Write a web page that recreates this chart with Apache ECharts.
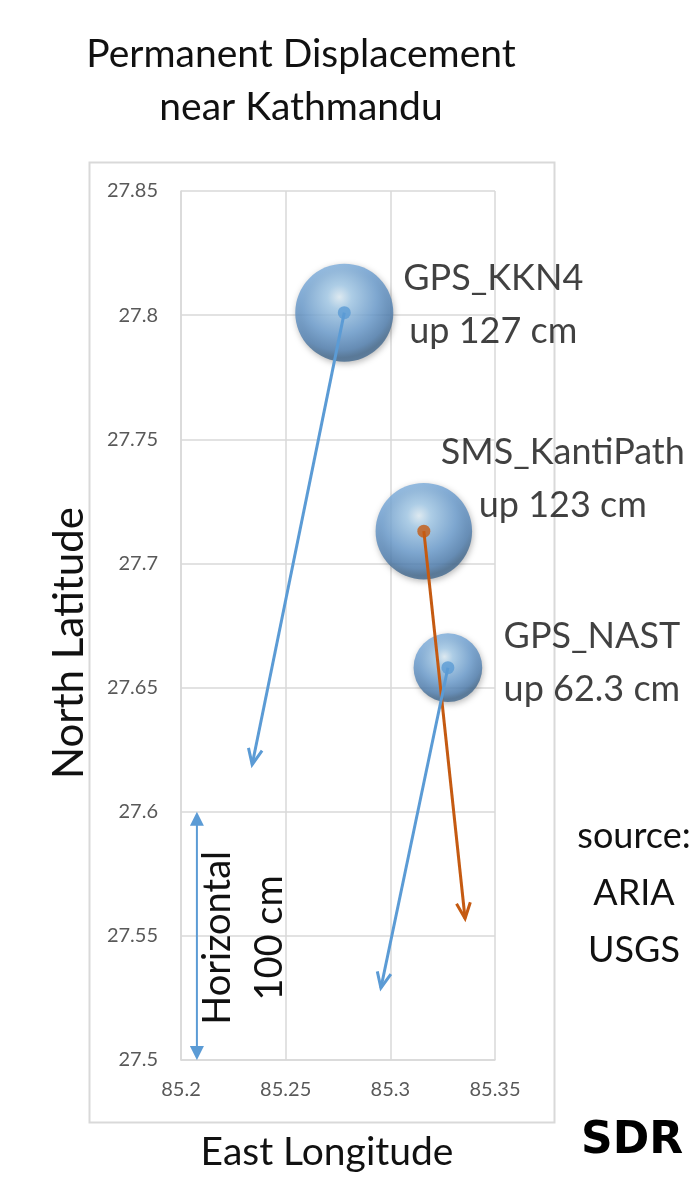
<!DOCTYPE html>
<html>
<head>
<meta charset="utf-8">
<script src="https://cdn.jsdelivr.net/npm/echarts@6/dist/echarts.min.js"></script>
<style>
html,body{margin:0;padding:0;background:#fff;}
#main{width:696px;height:1189px;}
</style>
</head>
<body>
<div id="main"></div>
<script>
// ---- data ----
const stations = ['GPS_KKN4', 'SMS_KantiPath', 'GPS_NAST'];
const upCm = [127, 123, 62.3];
const startLon = [85.278, 85.316, 85.3275];
const startLat = [27.801, 27.713, 27.658];
const endLon = [85.234, 85.3357, 85.2955];
const endLat = [27.619, 27.557, 27.529];
const xTicks = [85.2, 85.25, 85.3, 85.35];
const yTicks = [27.5, 27.55, 27.6, 27.65, 27.7, 27.75, 27.8, 27.85];
const scaleLon = [85.2076];
const scaleLat = [27.5, 27.6];
const scaleLabel = 'Horizontal\n100 cm';
const titleLines = 'Permanent Displacement\nnear Kathmandu';
const sourceText = 'source:\nARIA\nUSGS';

// ---- styles ----
const FONT = 'Lato';
const TXT = '#111111';
const arrowColors = ['#5b9bd5', '#c55a11', '#5b9bd5'];
const labelOffsets = [[149, -8], [139, -52], [144, -5]];
const sphere = {
  type: 'radial', x: 0.45, y: 0.34, r: 0.62,
  colorStops: [
    {offset: 0, color: '#e6f5fe'},
    {offset: 0.2, color: '#aad2f1'},
    {offset: 0.62, color: '#6fa2d5'},
    {offset: 0.88, color: '#5282b4'},
    {offset: 1, color: '#42698f'}
  ]
};

const chart = echarts.init(document.getElementById('main'), null, {renderer: 'canvas'});

const bubbleData = stations.map((s, i) => ({
  name: s,
  value: [startLon[i], startLat[i], upCm[i]],
  label: {offset: labelOffsets[i]}
}));
const dotData = stations.map((s, i) => ({
  value: [startLon[i], startLat[i]],
  itemStyle: {color: arrowColors[i]}
}));
const arrowData = stations.map((s, i) => [startLon[i], startLat[i], endLon[i], endLat[i], i]);

function renderArrow(params, api) {
  const p0 = api.coord([api.value(0), api.value(1)]);
  const p1 = api.coord([api.value(2), api.value(3)]);
  const color = arrowColors[api.value(4)];
  const ang = Math.atan2(p1[1] - p0[1], p1[0] - p0[0]);
  const L = 17, a = 0.42;
  const h1 = [p1[0] - L * Math.cos(ang - a), p1[1] - L * Math.sin(ang - a)];
  const h2 = [p1[0] - L * Math.cos(ang + a), p1[1] - L * Math.sin(ang + a)];
  return {
    type: 'group',
    children: [
      {type: 'line', shape: {x1: p0[0], y1: p0[1], x2: p1[0], y2: p1[1]},
       style: {stroke: color, lineWidth: 3}},
      {type: 'polyline', shape: {points: [h1, p1, h2]},
       style: {stroke: color, lineWidth: 3, fill: null, lineJoin: 'miter'}}
    ]
  };
}

function renderScale(params, api) {
  const pb = api.coord([scaleLon[0], scaleLat[0]]);
  const pt = api.coord([scaleLon[0], scaleLat[1]]);
  const c = '#5b9bd5';
  const w = 7, h = 14;
  return {
    type: 'group',
    children: [
      {type: 'line', shape: {x1: pt[0], y1: pt[1] + 4, x2: pb[0], y2: pb[1] - 4},
       style: {stroke: c, lineWidth: 2}},
      {type: 'polygon', shape: {points: [[pt[0], pt[1]], [pt[0] - w, pt[1] + h], [pt[0] + w, pt[1] + h]]},
       style: {fill: c}},
      {type: 'polygon', shape: {points: [[pb[0], pb[1]], [pb[0] - w, pb[1] - h], [pb[0] + w, pb[1] - h]]},
       style: {fill: c}},
      {type: 'text', x: pt[0] + 47, y: (pt[1] + pb[1]) / 2 + 2, rotation: Math.PI / 2,
       style: {text: scaleLabel, align: 'center', verticalAlign: 'middle',
               font: '38px ' + FONT, fill: TXT, lineHeight: 52}}
    ]
  };
}

const option = {
  backgroundColor: '#fff',
  animation: false,
  grid: {left: 181, right: 201, top: 191, bottom: 129, containLabel: false},
  xAxis: {
    type: 'value', min: 85.2, max: 85.35, interval: 0.05,
    axisLine: {show: true, lineStyle: {color: '#d9d9d9', width: 1.5}},
    axisTick: {show: false},
    splitLine: {show: true, lineStyle: {color: '#d9d9d9', width: 1.5}},
    axisLabel: {
      color: '#595959', fontFamily: FONT, fontSize: 20, margin: 20,
      formatter: v => String(Number(v.toFixed(2))),
      showMinLabel: true, showMaxLabel: true
    }
  },
  yAxis: {
    type: 'value', min: 27.5, max: 27.85, interval: 0.05,
    axisLine: {show: true, lineStyle: {color: '#d9d9d9', width: 1.5}},
    axisTick: {show: false},
    splitLine: {show: true, lineStyle: {color: '#d9d9d9', width: 1.5}},
    axisLabel: {
      color: '#595959', fontFamily: FONT, fontSize: 20, margin: 23,
      formatter: v => String(Number(v.toFixed(2))),
      showMinLabel: true, showMaxLabel: true
    }
  },
  graphic: [
    {type: 'rect', left: 87, top: 160, z: -10,
     shape: {width: 465, height: 960},
     style: {fill: 'none', stroke: '#d9d9d9', lineWidth: 2}},
    {type: 'text', x: 301, y: 81, style: {text: titleLines, align: 'center', verticalAlign: 'middle',
      font: '39px ' + FONT, fill: TXT, lineHeight: 53}},
    {type: 'text', x: 69, y: 643, rotation: Math.PI / 2,
     style: {text: 'North Latitude', align: 'center', verticalAlign: 'middle',
      font: '42px ' + FONT, fill: TXT}},
    {type: 'text', x: 327, y: 1152,
     style: {text: 'East Longitude', align: 'center', verticalAlign: 'middle',
      font: '39px ' + FONT, fill: TXT}},
    {type: 'text', x: 634, y: 893,
     style: {text: sourceText, align: 'center', verticalAlign: 'middle',
      font: '36px ' + FONT, fill: TXT, lineHeight: 57}},
    {type: 'text', x: 632, y: 1142,
     style: {text: 'SDR', align: 'center', verticalAlign: 'middle',
      font: 'bold 44px "DejaVu Sans"', fill: '#000'}}
  ],
  series: [
    {
      type: 'scatter', name: 'bubbles', z: 2,
      data: bubbleData,
      symbolSize: v => Math.sqrt(v[2]) * 8.7,
      itemStyle: {color: sphere, shadowBlur: 6, shadowColor: 'rgba(0,0,0,0.35)', shadowOffsetX: 1, shadowOffsetY: 2},
      emphasis: {disabled: true},
      label: {
        show: true, position: 'inside', align: 'center', verticalAlign: 'middle',
        formatter: p => p.name + '\nup ' + p.value[2] + ' cm',
        fontFamily: FONT, fontSize: 36, color: TXT, lineHeight: 53
      }
    },
    {
      type: 'custom', name: 'arrows', z: 3,
      renderItem: renderArrow, data: arrowData,
      encode: {x: [0, 2], y: [1, 3]}
    },
    {
      type: 'scatter', name: 'dots', z: 4,
      data: dotData, symbolSize: 13,
      emphasis: {disabled: true}
    },
    {
      type: 'custom', name: 'scale', z: 3,
      renderItem: renderScale, data: [[scaleLon[0], scaleLat[0]]]
    }
  ]
};
chart.setOption(option);
</script>
</body>
</html>
